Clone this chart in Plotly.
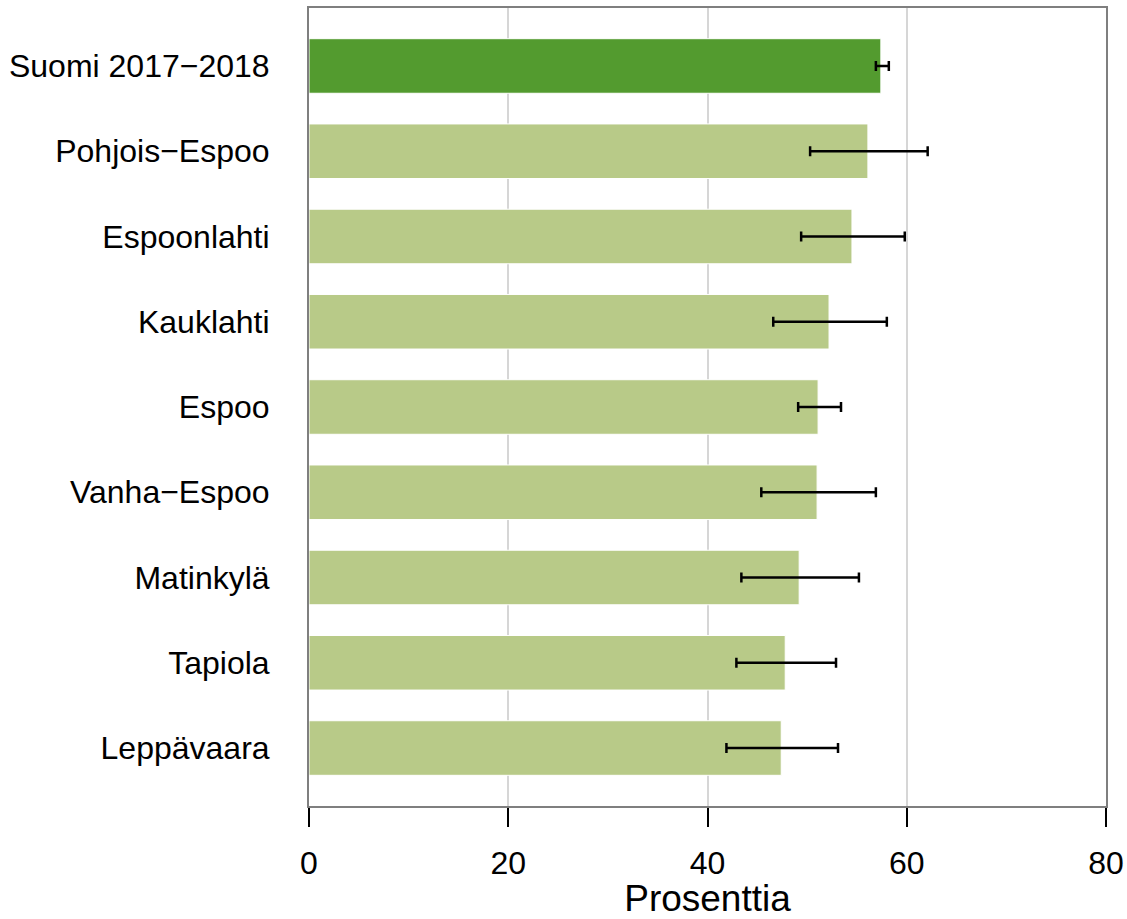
import plotly.graph_objects as go

categories = ["Suomi 2017\u22122018", "Pohjois\u2212Espoo", "Espoonlahti", "Kauklahti",
              "Espoo", "Vanha\u2212Espoo", "Matinkylä", "Tapiola", "Leppävaara"]
values = [57.4, 56.1, 54.5, 52.2, 51.1, 51.0, 49.2, 47.8, 47.4]
ci_low = [56.9, 50.3, 49.4, 46.6, 49.1, 45.4, 43.4, 42.9, 41.9]
ci_high = [58.2, 62.1, 59.8, 58.0, 53.4, 56.9, 55.2, 52.9, 53.1]
colors = ["#539b2f"] + ["#b8ca88"] * 8
x_ticks = [0, 20, 40, 60, 80]

err_plus = [h - v for h, v in zip(ci_high, values)]
err_minus = [v - l for v, l in zip(values, ci_low)]

fig = go.Figure()
fig.add_trace(go.Bar(
    x=values, y=categories, orientation="h",
    marker=dict(color=colors, line=dict(color="white", width=1)),
    width=0.64,
    error_x=dict(type="data", symmetric=False, array=err_plus, arrayminus=err_minus,
                 color="black", thickness=2.5, width=5),
    hoverinfo="x+y",
))

n = len(categories)
fig.update_layout(
    width=1127, height=919, autosize=False,
    margin=dict(l=309, r=21, t=8, b=113, autoexpand=False),
    plot_bgcolor="white", paper_bgcolor="white",
    font=dict(family="Liberation Sans, Arial, sans-serif", color="black"),
    showlegend=False,
    xaxis=dict(
        range=[0, 80], tickvals=x_ticks, ticktext=[str(t) for t in x_ticks],
        showgrid=True, gridcolor="#d6d6d6", gridwidth=2,
        showline=True, linecolor="#7f7f7f", linewidth=2, mirror=True,
        ticks="outside", ticklen=19, tickwidth=2, tickcolor="black",
        tickfont=dict(size=32), ticklabelstandoff=9, ticklabeloverflow="allow",
        zeroline=False, automargin=False,
        title=dict(text="Prosenttia", font=dict(size=37), standoff=7),
    ),
    yaxis=dict(
        categoryorder="array", categoryarray=categories,
        range=[n - 1 + 0.68, -0.68],
        showgrid=False, showline=True, linecolor="#7f7f7f", linewidth=2, mirror=True,
        ticks="", tickfont=dict(size=32), ticklabelstandoff=31, zeroline=False,
        automargin=False,
    ),
)

fig.write_html("out.html",
               config={"responsive": False, "displayModeBar": False},
               post_script="document.body.style.margin='0';document.body.style.overflow='hidden';")
